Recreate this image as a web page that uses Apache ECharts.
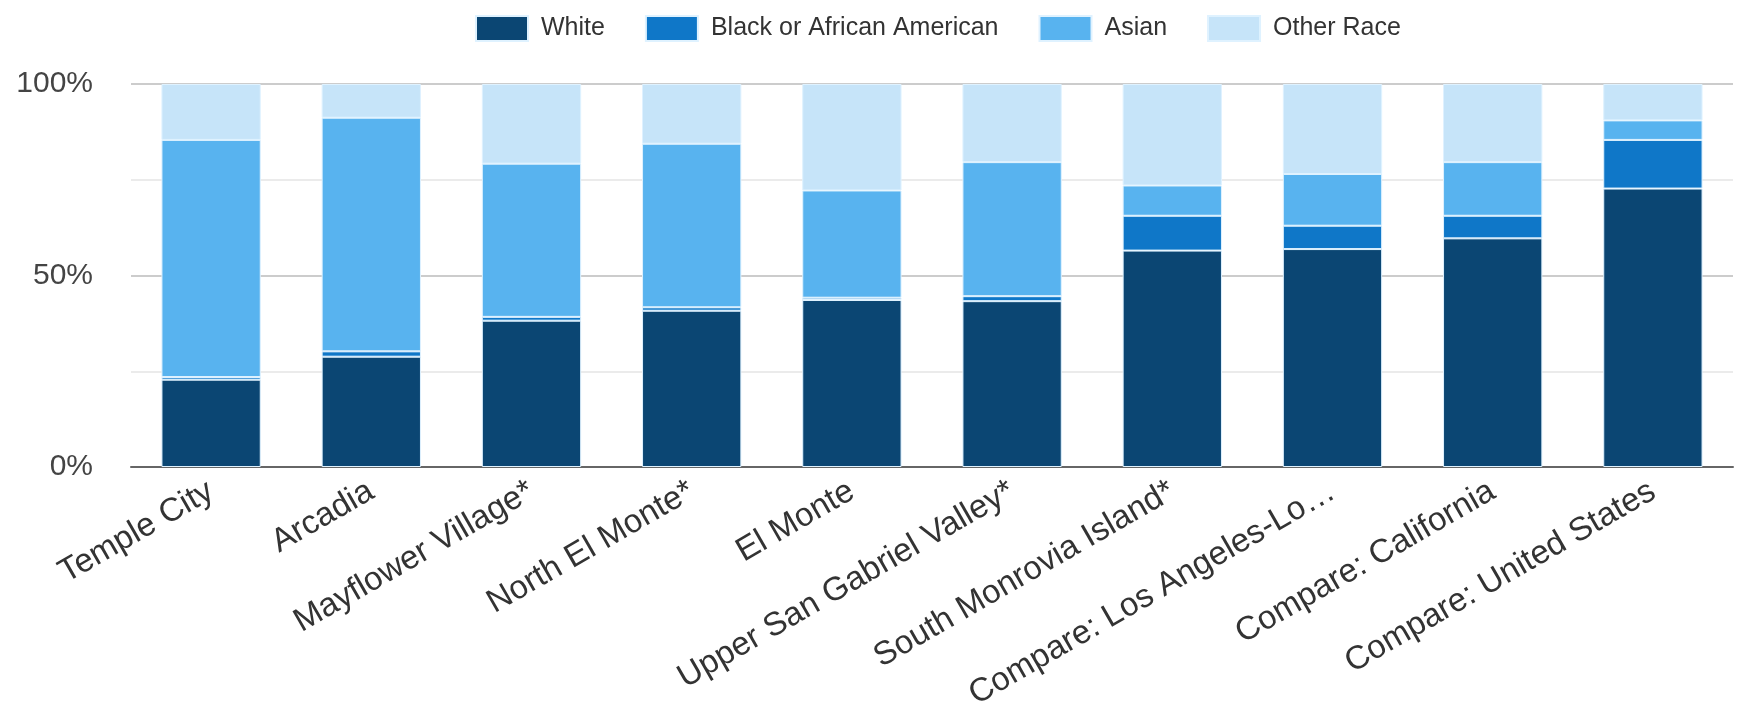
<!DOCTYPE html>
<html>
<head>
<meta charset="utf-8">
<script src="https://cdn.jsdelivr.net/npm/echarts@6/dist/echarts.min.js"></script>
<style>
html,body{margin:0;padding:0;background:#fff;}
#chart{width:1744px;height:714px;}
</style>
</head>
<body>
<div id="chart"></div>
<script>
const categories = ["Temple City","Arcadia","Mayflower Village*","North El Monte*","El Monte","Upper San Gabriel Valley*","South Monrovia Island*","Compare: Los Angeles-Lo\u2026","Compare: California","Compare: United States"];
const seriesNames = ["White","Black or African American","Asian","Other Race"];
const white = [22.8, 28.8, 38.2, 40.8, 43.6, 43.3, 56.5, 56.9, 59.7, 72.7];
const black = [0.7, 1.4, 1.0, 0.9, 0.6, 1.3, 9.1, 6.1, 5.9, 12.7];
const asian = [61.9, 61.0, 40.0, 42.7, 28.0, 35.0, 7.9, 13.5, 14.0, 5.1];
const other = [14.6, 8.8, 20.8, 15.6, 27.8, 20.4, 26.5, 23.5, 20.4, 9.5];
const yTicks = ["0%","50%","100%"];
const colors = ["#0b4673","#0f77c8","#58b3ef","#c6e4f9"];

const dataSets = [white, black, asian, other];
const chart = echarts.init(document.getElementById('chart'));
chart.setOption({
  animation:false,
  color: colors,
  textStyle:{fontFamily:'"Liberation Sans", Arial, sans-serif'},
  legend:{
    top:10, left:470,
    itemWidth:52, itemHeight:25, itemGap:40,
    icon:'rect',
    textStyle:{fontSize:25, color:'#333', padding:[0,0,0,8]},
    data: seriesNames
  },
  grid:{left:131, right:11, top:84, bottom:247, containLabel:false},
  xAxis:{
    type:'category', data:categories,
    axisLine:{lineStyle:{color:'#666', width:2}},
    axisTick:{show:false},
    axisLabel:{rotate:30, fontSize:33, color:'#333', margin:22, interval:0}
  },
  yAxis:{
    type:'value', min:0, max:100, interval:25,
    axisLine:{show:false}, axisTick:{show:false},
    splitLine:{lineStyle:{color:['#cccccc','#ebebeb'], width:2}},
    axisLabel:{
      fontSize:30, color:'#444', margin:38,
      formatter: v => { const i = yTicks.indexOf(v + '%'); return i >= 0 ? yTicks[i] : ''; }
    }
  },
  series: seriesNames.map((n,i)=>({
    name:n, type:'bar', stack:'total', barWidth:'62%',
    itemStyle:{borderColor:'#dff2ff', borderWidth:1},
    data: dataSets[i]
  }))
});
</script>
</body>
</html>
